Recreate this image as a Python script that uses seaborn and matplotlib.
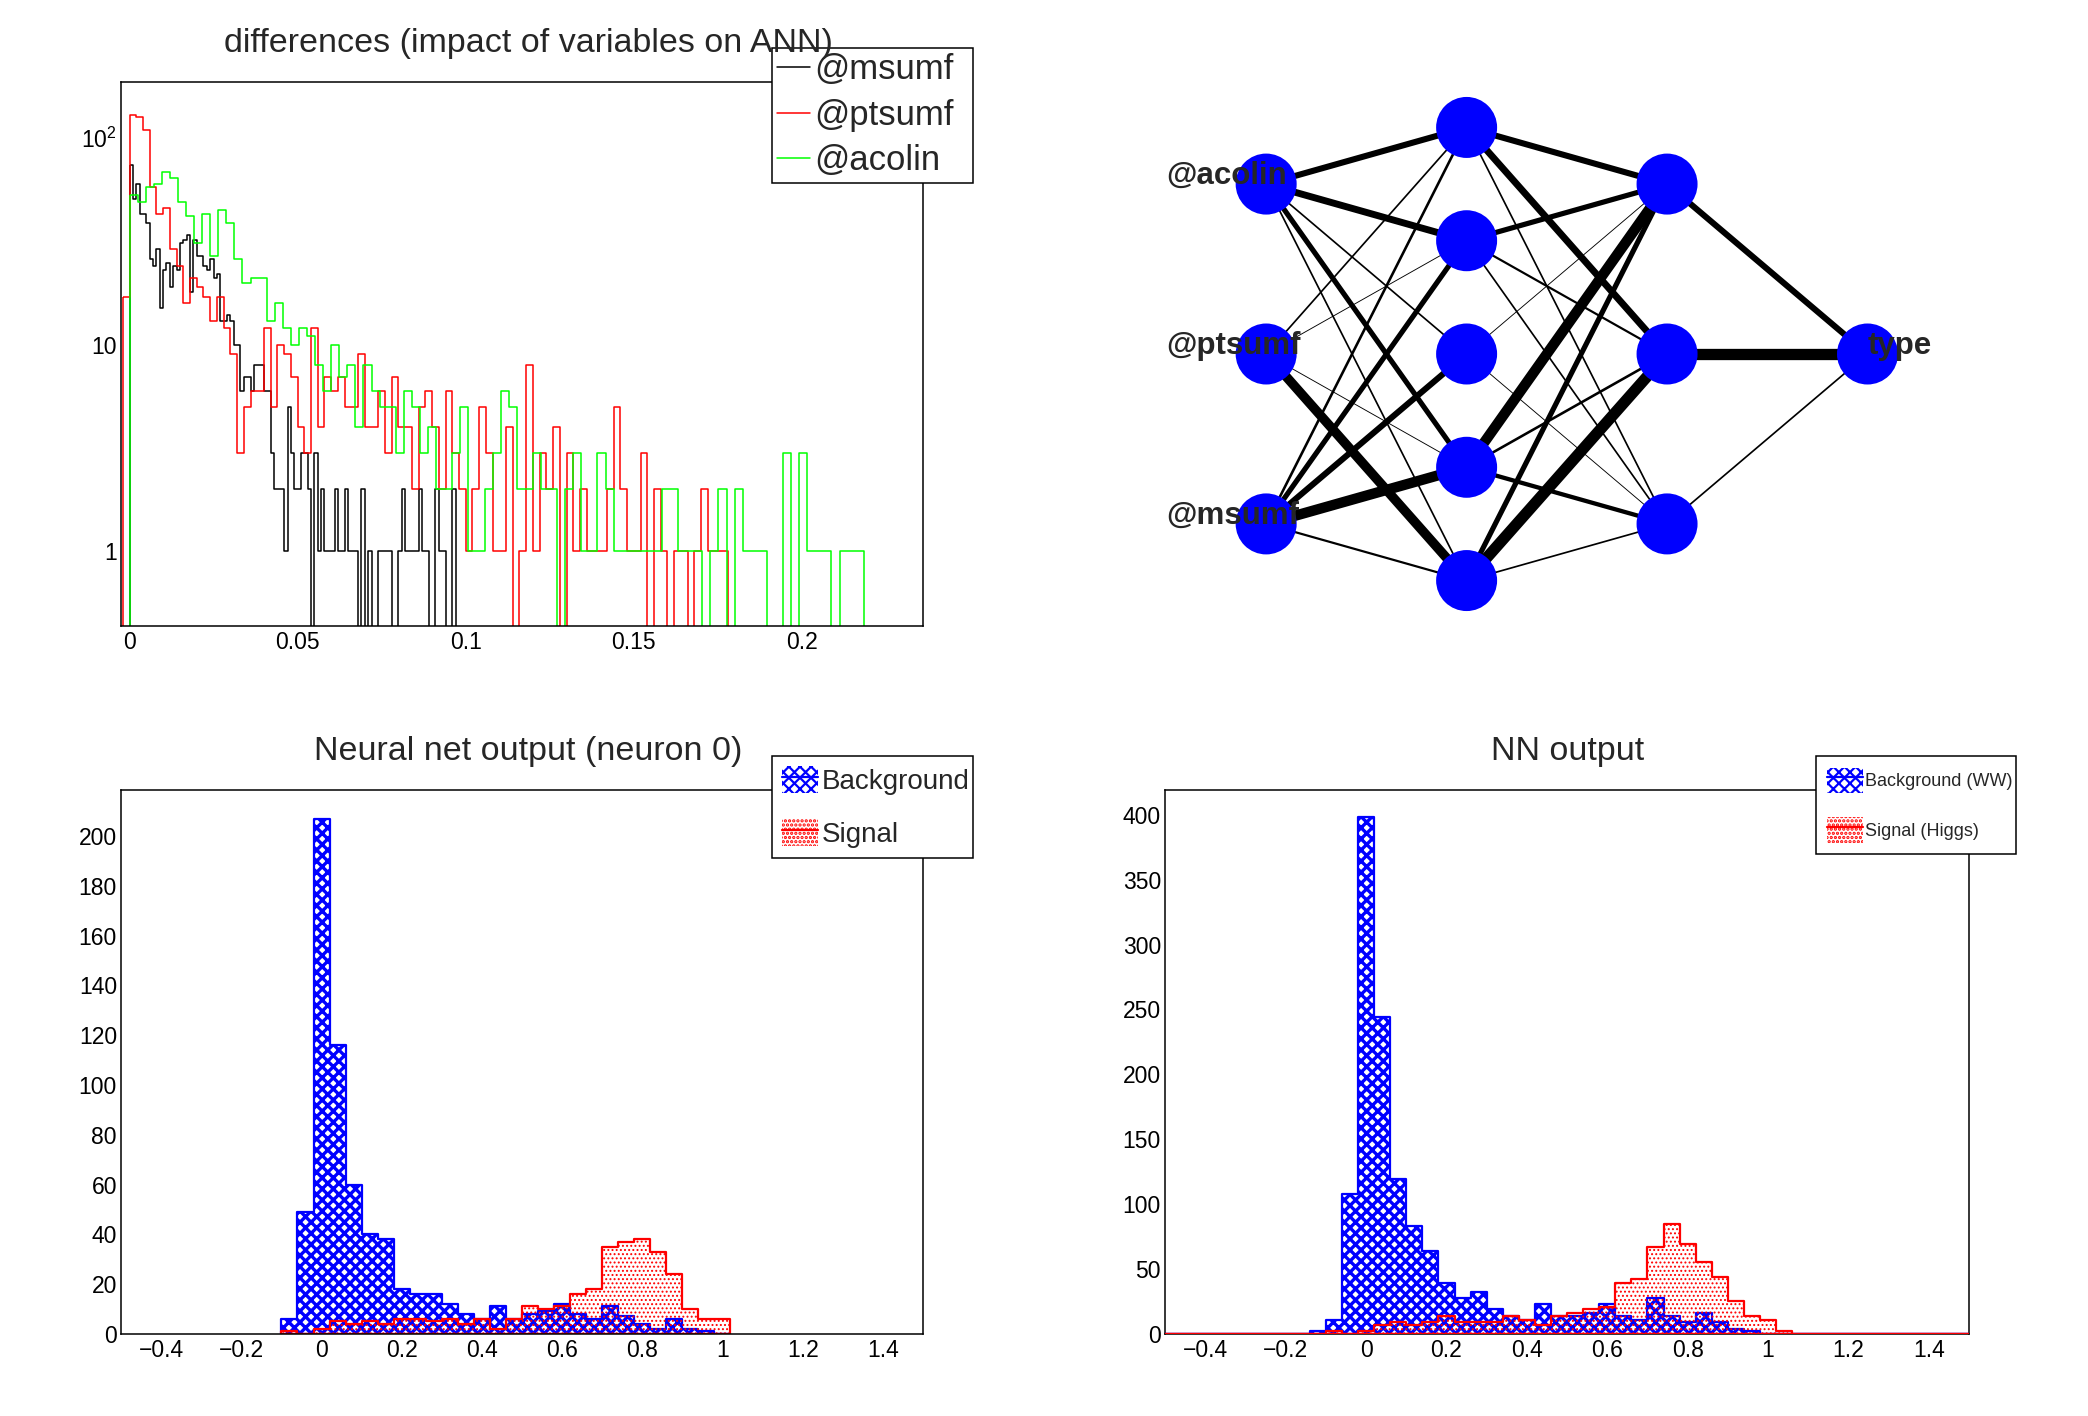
import numpy as np
import pandas as pd
import matplotlib
matplotlib.use("Agg")
import matplotlib.pyplot as plt
import seaborn as sns
from matplotlib.patches import Patch
from matplotlib.lines import Line2D
from matplotlib.legend_handler import HandlerTuple
from matplotlib.ticker import (FixedLocator, FixedFormatter, MultipleLocator,
                               LogLocator, NullFormatter, FuncFormatter)

# ---------------- data ----------------
# top-left: "differences (impact of variables on ANN)" (three histograms, own binning)
msumf_start, msumf_width = 0.0, 0.001
msumf_counts = [74, 51, 60, 43, 43, 39, 26, 24, 29, 15, 23, 25, 19, 24, 23, 31, 32, 34, 18, 32,
                27, 27, 24, 23, 26, 21, 22, 13, 13, 14, 13, 10, 10, 6, 7, 7, 6, 8, 8, 8,
                6, 6, 3, 2, 2, 2, 1, 5, 3, 2, 2, 3, 3, 2, 0, 3, 1, 2, 1, 1,
                1, 2, 1, 1, 2, 1, 1, 1, 0, 2, 0, 1, 0, 0, 1, 1, 1, 1, 0, 0,
                1, 2, 1, 1, 1, 1, 2, 1, 1, 0, 0, 2, 1, 1, 0, 0, 2, 0, 0, 0]
ptsumf_start, ptsumf_width = -0.002, 0.002
ptsumf_counts = [17, 130, 127, 110, 58, 43, 46, 29, 24, 16, 21, 19, 17, 13, 17,
                 12, 9, 3, 5, 6, 6, 12, 5, 10, 9, 7, 4, 3, 12, 4, 7, 6,
                 7, 5, 5, 9, 4, 4, 6, 3, 7, 4, 4, 2, 5, 6, 4, 2, 6, 3, 2, 1, 2, 5, 3, 1, 1, 4, 0, 1, 8, 1, 3, 2, 4,
                 0, 3, 1, 2, 1, 1, 1, 2, 5, 2, 1, 1, 3, 0, 2, 1, 0, 1, 1, 0, 1, 2, 1, 1, 1,
                 0, 0, 0, 0, 0, 0, 0, 0, 0, 0]
acolin_start, acolin_width = 0.0, 0.0024
acolin_counts = [53, 49, 58, 60, 69, 64, 49, 42, 31, 43, 27, 45, 39,
                 26, 20, 21, 21, 13, 16, 12, 10, 12, 11, 8, 6, 10,
                 7, 8, 4, 8, 6, 5, 5, 3, 6, 5, 3, 4, 2, 2, 3, 5, 1, 1, 2, 3, 6, 5, 2, 2, 3, 2, 2,
                 0, 2, 3, 1, 1, 3, 2, 1, 1, 1, 1, 1, 1, 2, 2, 1, 1, 1, 0, 1, 2, 0, 2, 1, 1, 1,
                 0, 0, 3, 0, 3, 1, 1, 1, 0, 1, 1, 1,
                 0, 0, 0, 0, 0, 0, 0]
diff_names = ["@msumf", "@ptsumf", "@acolin"]
diff_colors = ["black", "red", "#00ff00"]

# bottom panels: 50 bins from -0.5 to 1.5
out_start, out_width, out_nbins = -0.5, 0.04, 50
nn0_bkg = [0] * 10 + [6, 49, 207, 116, 60, 40, 38, 18, 16, 16, 12, 8, 6, 11, 6, 8, 9, 12, 8, 6,
                      11, 7, 4, 2, 6, 2, 1] + [0] * 13
nn0_sig = [0] * 10 + [1, 0, 2, 5, 4, 5, 4, 6, 6, 5, 6, 4, 6, 2, 6, 11, 10, 11, 16, 18,
                      35, 37, 38, 33, 24, 10, 6, 6] + [0] * 12
nn_bkg = [0] * 9 + [2, 11, 108, 398, 244, 119, 83, 64, 39, 28, 32, 19, 14, 11, 23, 14, 14, 16,
                    23, 14, 11, 28, 14, 9, 16, 9, 4, 2] + [0] * 13
nn_sig = [0] * 10 + [2, 0, 2, 7, 9, 7, 9, 14, 9, 9, 9, 14, 11, 7, 14, 16, 19, 21, 39, 42,
                     67, 85, 69, 55, 44, 25, 14, 11, 2] + [0] * 11

# network: layers and synapse widths (px)
layer_sizes = [3, 5, 3, 1]
input_names = ["@msumf", "@ptsumf", "@acolin"]   # bottom -> top
output_name = "type"
w_in_h1 = [[2.2, 10.4, 6.1, 5.2, 2.6],
           [9.5, 0.9, 0.0, 0.9, 1.7],
           [1.7, 5.2, 1.7, 6.9, 6.1]]
w_h1_h2 = [[1.7, 11.3, 5.2],
           [4.3, 2.6, 10.4],
           [0.9, 0.0, 0.9],
           [1.7, 2.2, 5.2],
           [1.7, 6.9, 6.1]]
w_h2_out = [[1.7], [11.3], [6.1]]

# ---------------- style ----------------
sns.set_theme(style="white")
plt.rcParams["font.family"] = ["Liberation Sans", "DejaVu Sans"]
plt.rcParams["mathtext.fontset"] = "custom"
plt.rcParams["mathtext.rm"] = "Liberation Sans"
plt.rcParams["mathtext.it"] = "Liberation Sans:italic"
plt.rcParams["hatch.linewidth"] = 1.6
plt.rcParams["axes.unicode_minus"] = True

PX = 0.72  # points per pixel at dpi 100
BKG_HATCH, SIG_HATCH = "xxx", "...."
BKG_HLW, SIG_HLW = 2.4, 0.9

fig = plt.figure(figsize=(20.88, 14.16), dpi=100)
fig.patch.set_facecolor("white")

def set_hlw(artist, lw):
    if hasattr(artist, "set_hatch_linewidth"):
        try:
            artist.set_hatch_linewidth(lw)
        except Exception:
            pass

def fmt_g(v, p):
    s = f"{v:g}"
    if s in ("-0", "0"):
        return "0"
    return s.replace("-", "\u2212")

def root_style(ax):
    for s in ax.spines.values():
        s.set_visible(True)
        s.set_color("black")
        s.set_linewidth(1.1)
    ax.set_facecolor("white")
    ax.grid(False)
    ax.tick_params(axis="both", which="both", direction="in", top=False, right=False,
                   colors="black", labelsize=16.5, width=1.0)
    ax.tick_params(axis="y", which="major", length=17, pad=3)
    ax.tick_params(axis="y", which="minor", length=8.5)
    ax.tick_params(axis="x", which="major", length=11.5, pad=4)
    ax.tick_params(axis="x", which="minor", length=5.8)
    ax.set_xlabel("")
    ax.set_ylabel("")

def hist_frame(start, width, counts):
    counts = np.asarray(counts, dtype=float)
    edges = start + width * np.arange(len(counts) + 1)
    centers = 0.5 * (edges[:-1] + edges[1:])
    return [float(e) for e in edges], pd.DataFrame({"x": centers, "w": counts})

# ---------------- top-left: differences ----------------
ax1 = fig.add_axes([0.058, 0.558, 0.384, 0.384])
for (st, wd, cnt), col in zip([(msumf_start, msumf_width, msumf_counts),
                               (ptsumf_start, ptsumf_width, ptsumf_counts),
                               (acolin_start, acolin_width, acolin_counts)], diff_colors):
    edges, df = hist_frame(st, wd, cnt)
    sns.histplot(data=df, x="x", weights="w", bins=edges, element="step", fill=True,
                 color=col, facecolor="none", edgecolor=col, linewidth=1.1, ax=ax1)
ax1.set_yscale("log")
ax1.set_xlim(-0.0025, 0.236)
ax1.set_ylim(0.4357, 187)
root_style(ax1)
ax1.yaxis.set_major_locator(FixedLocator([1, 10, 100]))
ax1.yaxis.set_major_formatter(FixedFormatter(["1", "10", "$10^{2}$"]))
ax1.yaxis.set_minor_locator(LogLocator(base=10, subs=np.arange(2, 10)))
ax1.yaxis.set_minor_formatter(NullFormatter())
ax1.xaxis.set_major_locator(MultipleLocator(0.05))
ax1.xaxis.set_minor_locator(MultipleLocator(0.01))
ax1.xaxis.set_major_formatter(FuncFormatter(fmt_g))
fig.text(0.253, 0.969, "differences (impact of variables on ANN)", ha="center", va="center",
         fontsize=24.5)
h1 = [Line2D([0], [0], color=c, lw=1.1) for c in diff_colors]
leg1 = ax1.legend(h1, diff_names, loc="upper left", bbox_to_anchor=(0.3698, 0.870, 0.0961, 0.096),
                  bbox_transform=fig.transFigure, mode="expand", fontsize=25, frameon=True,
                  fancybox=False, framealpha=1, edgecolor="black", borderpad=0.15,
                  labelspacing=0.36, handlelength=0.95, handletextpad=0.12, borderaxespad=0)
leg1.get_frame().set_linewidth(1.1)

# ---------------- top-right: network ----------------
axn = fig.add_axes([0.5104, 0.51, 0.48, 0.48])
L = len(layer_sizes)
pos = []
for l, n in enumerate(layer_sizes):
    pos.append([((l + 1) / (L + 1), (j + 1) / (n + 1)) for j in range(n)])
for l, wmat in enumerate([w_in_h1, w_h1_h2, w_h2_out]):
    for i, row in enumerate(wmat):
        for j, w in enumerate(row):
            if w <= 0:
                continue
            (xa, ya), (xb, yb) = pos[l][i], pos[l + 1][j]
            axn.plot([xa, xb], [ya, yb], color="black", lw=w * PX, solid_capstyle="butt", zorder=1)
nodes = pd.DataFrame([{"x": x, "y": y} for layer in pos for (x, y) in layer])
sns.scatterplot(data=nodes, x="x", y="y", s=(61 * PX) ** 2, color="blue", edgecolor="none",
                linewidth=0, ax=axn, zorder=3, legend=False)
axn.set_xlim(0, 1)
axn.set_ylim(0, 1)
axn.axis("off")
for (x, y), name in zip(pos[0], input_names):
    axn.text(0.1, y, name, fontsize=22.5, fontweight="bold", ha="left", va="baseline", zorder=4)
ox, oy = pos[-1][0]
axn.text(ox, oy, output_name, fontsize=22.5, fontweight="bold", ha="left", va="baseline", zorder=4)

# ---------------- bottom panels ----------------
def nn_panel(rect, bkg, sig, title, tx, labels, leg_x, leg_fs, leg_ls, leg_bp, leg_tp,
             full_range, ymax, ymaj, ymin_step):
    ax = fig.add_axes(rect)
    bk = np.asarray(bkg)
    sg = np.asarray(sig)
    if full_range:
        lo, hi = 0, out_nbins
    else:
        nz = np.nonzero((bk > 0) | (sg > 0))[0]
        lo, hi = nz.min(), nz.max() + 1
    eb, dfb = hist_frame(out_start + lo * out_width, out_width, bk[lo:hi])
    es, dfs = hist_frame(out_start + lo * out_width, out_width, sg[lo:hi])
    z = 3 if full_range else 1
    with plt.rc_context({"hatch.linewidth": BKG_HLW}):
        sns.histplot(data=dfb, x="x", weights="w", bins=eb, element="step", fill=True,
                     color="blue", facecolor="none", edgecolor="blue", hatch=BKG_HATCH,
                     linewidth=1.6, ax=ax, zorder=z)
    set_hlw(ax.collections[-1], BKG_HLW)
    with plt.rc_context({"hatch.linewidth": SIG_HLW}):
        sns.histplot(data=dfs, x="x", weights="w", bins=es, element="step", fill=True,
                     color="red", facecolor="none", edgecolor="red", hatch=SIG_HATCH,
                     linewidth=1.6, ax=ax, zorder=z + 0.1)
    set_hlw(ax.collections[-1], SIG_HLW)
    ax.set_xlim(-0.5, 1.5)
    ax.set_ylim(0, ymax)
    root_style(ax)
    ax.xaxis.set_major_locator(MultipleLocator(0.2))
    ax.xaxis.set_minor_locator(MultipleLocator(0.05))
    ax.xaxis.set_major_formatter(FuncFormatter(fmt_g))
    ax.yaxis.set_major_locator(MultipleLocator(ymaj))
    ax.yaxis.set_minor_locator(MultipleLocator(ymin_step))
    ax.yaxis.set_major_formatter(FuncFormatter(fmt_g))
    fig.text(tx, 0.469, title, ha="center", va="center", fontsize=24.5)
    with plt.rc_context({"hatch.linewidth": BKG_HLW}):
        pb = Patch(facecolor="none", edgecolor="blue", hatch=BKG_HATCH, linewidth=0)
    set_hlw(pb, BKG_HLW)
    with plt.rc_context({"hatch.linewidth": SIG_HLW}):
        ps = Patch(facecolor="none", edgecolor="red", hatch=SIG_HATCH, linewidth=0)
    set_hlw(ps, SIG_HLW)
    hb = (pb, Line2D([0], [0], color="blue", lw=1.6))
    hs = (ps, Line2D([0], [0], color="red", lw=1.6))
    leg = ax.legend([hb, hs], labels, loc="upper left",
                    bbox_to_anchor=(leg_x, 0.394, 0.0961, 0.072), bbox_transform=fig.transFigure,
                    mode="expand", fontsize=leg_fs, frameon=True, fancybox=False, framealpha=1,
                    edgecolor="black", borderpad=leg_bp, labelspacing=leg_ls,
                    handlelength=36 * PX / leg_fs, handleheight=32 * PX / leg_fs,
                    handletextpad=leg_tp, borderaxespad=0,
                    handler_map={tuple: HandlerTuple(ndivide=1, pad=0)})
    leg.get_frame().set_linewidth(1.1)
    return ax

nn_panel([0.058, 0.058, 0.384, 0.384], nn0_bkg, nn0_sig, "Neural net output (neuron 0)", 0.253,
         ["Background", "Signal"], 0.3698, 20, 0.85, 0.35, 0.15, False, 218.5, 20, 5)
nn_panel([0.558, 0.058, 0.385, 0.384], nn_bkg, nn_sig, "NN output", 0.751,
         ["Background (WW)", "Signal (Higgs)"], 0.8696, 13, 1.35, 0.65, 0.1, True, 419, 50, 10)

fig.savefig("out.png", dpi=100, facecolor="white")
